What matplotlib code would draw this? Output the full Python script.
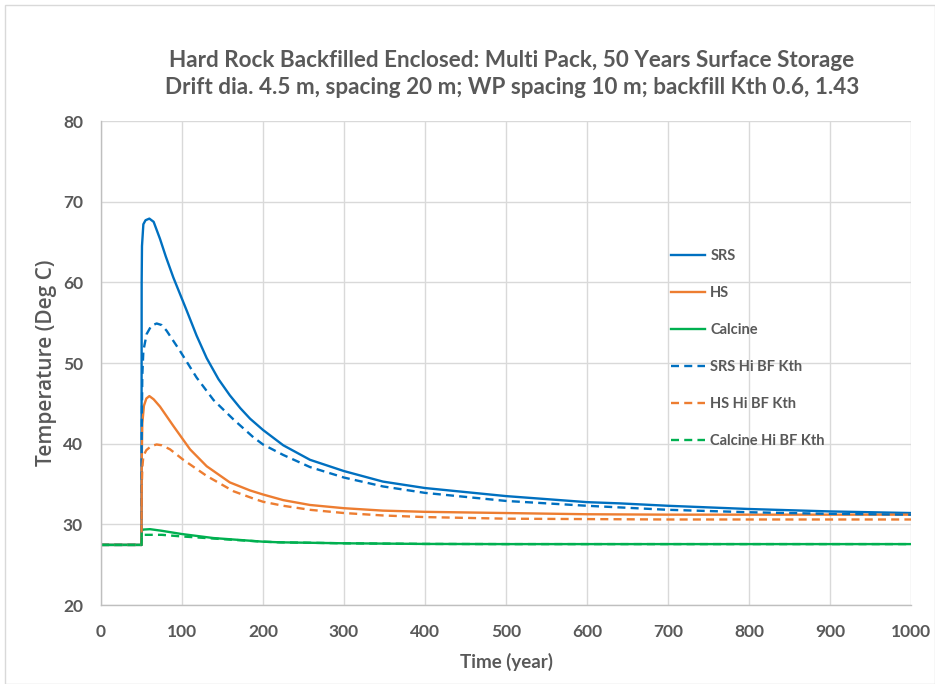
import matplotlib
matplotlib.use("Agg")
import matplotlib.pyplot as plt
from matplotlib.patches import Rectangle

plt.rcParams['font.family'] = ['Lato', 'DejaVu Sans']

# ---- data ----
srs_t = [0, 50, 50.2, 50.6, 52.3, 55, 59.7, 65, 72.8, 80, 89.3, 105.8, 118, 130.5, 145, 159, 172, 184, 200, 225,
         258, 300, 348, 400, 450, 500, 600, 640, 700, 800, 900, 1000]
srs_v = [27.45, 27.45, 60.0, 64.5, 67.2, 67.7, 67.9, 67.5, 65.4, 63.2, 60.6, 56.5, 53.4, 50.6, 48.0, 46.0, 44.4,
         43.1, 41.7, 39.8, 38.0, 36.6, 35.3, 34.5, 34.0, 33.5, 32.75, 32.6, 32.3, 31.9, 31.6, 31.4]

hs_t = [0, 50, 50.3, 51, 53, 56, 59.7, 65, 72.8, 89.3, 109.9, 130.5, 159, 184, 200, 225, 258, 300, 348, 400, 500,
        600, 700, 800, 900, 1000]
hs_v = [27.45, 27.45, 38.0, 42.5, 44.7, 45.6, 45.9, 45.5, 44.6, 42.2, 39.3, 37.2, 35.2, 34.2, 33.7, 33.0, 32.4, 32.0,
        31.7, 31.55, 31.4, 31.25, 31.2, 31.2, 31.2, 31.2]

cal_t = [0, 50, 50.3, 52, 60.5, 75, 99.6, 138.7, 200, 221, 300, 400, 500, 700, 1000]
cal_v = [27.45, 27.45, 29.2, 29.35, 29.4, 29.2, 28.8, 28.3, 27.85, 27.77, 27.65, 27.57, 27.55, 27.55, 27.55]

srs_hi_t = [0, 50, 50.3, 51, 52.3, 56.4, 62, 68.7, 75, 81, 97.5, 118, 139, 163.6, 188, 200, 225, 258, 300, 348, 400,
            500, 600, 640, 700, 800, 900, 1000]
srs_hi_v = [27.45, 27.45, 42.0, 48.5, 51.5, 53.6, 54.6, 54.9, 54.7, 54.0, 51.5, 48.2, 45.4, 43.0, 40.8, 39.9, 38.6,
            37.1, 35.8, 34.7, 33.9, 32.9, 32.3, 32.1, 31.8, 31.5, 31.3, 31.2]

hs_hi_t = [0, 50, 50.3, 51, 52.3, 56, 62, 68.7, 75, 85.2, 101.6, 130.5, 163.6, 188, 200, 225, 258, 300, 348, 400,
           500, 600, 700, 800, 900, 1000]
hs_hi_v = [27.45, 27.45, 34.5, 37.0, 38.5, 39.2, 39.7, 39.9, 39.8, 39.3, 38.0, 36.0, 34.1, 33.2, 32.8, 32.3, 31.8,
           31.4, 31.1, 30.9, 30.7, 30.65, 30.6, 30.6, 30.6, 30.6]

cal_hi_t = [0, 50, 50.4, 51.4, 75, 99.6, 130, 160, 200, 221, 300, 400, 500, 700, 1000]
cal_hi_v = [27.45, 27.45, 28.5, 28.7, 28.7, 28.5, 28.3, 28.1, 27.85, 27.77, 27.65, 27.57, 27.55, 27.55, 27.55]

series = [
    ("SRS", srs_t, srs_v, "#0070C0", "-"),
    ("HS", hs_t, hs_v, "#ED7D31", "-"),
    ("Calcine", cal_t, cal_v, "#00B050", "-"),
    ("SRS Hi BF Kth", srs_hi_t, srs_hi_v, "#0070C0", (0, (3.4, 2.2))),
    ("HS Hi BF Kth", hs_hi_t, hs_hi_v, "#ED7D31", (0, (3.4, 2.2))),
    ("Calcine Hi BF Kth", cal_hi_t, cal_hi_v, "#00B050", (0, (3.4, 2.2))),
]

x_ticks = list(range(0, 1001, 100))
y_ticks = list(range(20, 81, 10))

title = ("Hard Rock Backfilled Enclosed: Multi Pack, 50 Years Surface Storage\n"
         "Drift dia. 4.5 m, spacing 20 m; WP spacing 10 m; backfill Kth 0.6, 1.43")

gray = "#595959"
grid = "#d9d9d9"

fig = plt.figure(figsize=(9.35, 6.84), dpi=100)
W, H = 935, 684
ax = fig.add_axes([101 / W, 1 - 605 / H, (911 - 101) / W, (605 - 121) / H])

fig.patches.append(Rectangle((5 / W, 0), 1 - 5 / W, 1 - 5 / H, transform=fig.transFigure,
                             fill=False, edgecolor="#d9d9d9", linewidth=1))

for name, t, v, c, ls in series:
    ax.plot(t, v, color=c, linestyle=ls, linewidth=1.7, label=name)

ax.set_xlim(0, 1000)
ax.set_ylim(20, 80)
ax.set_xticks(x_ticks)
ax.set_yticks(y_ticks)
ax.grid(True, color=grid, linewidth=1)
ax.set_axisbelow(True)
for s in ["top", "right"]:
    ax.spines[s].set_visible(False)
for s in ["left", "bottom"]:
    ax.spines[s].set_color("#bfbfbf")
    ax.spines[s].set_linewidth(1)
ax.tick_params(axis="x", length=0, labelsize=12.5, labelcolor=gray, pad=14)
ax.tick_params(axis="y", length=0, labelsize=12.5, labelcolor=gray, pad=13)
for lab in ax.get_xticklabels() + ax.get_yticklabels():
    lab.set_fontweight("bold")

ax.set_xlabel("Time (year)", fontsize=13.5, fontweight="bold", color=gray, labelpad=9)
ax.set_ylabel("Temperature (Deg C)", fontsize=15, fontweight="semibold", color=gray, labelpad=4,
              family=["Open Sans", "DejaVu Sans"])

fig.text(512 / W, 1 - 74 / H, title, ha="center", va="center", fontsize=16.2,
         fontweight="bold", color=gray, linespacing=1.4)

leg = ax.legend(loc="upper left", bbox_to_anchor=(665 / W, 1 - 243 / H), bbox_transform=fig.transFigure,
                frameon=False, fontsize=10.5, labelspacing=1.58, handlelength=2.35, handletextpad=0.35,
                borderaxespad=0)
for txt in leg.get_texts():
    txt.set_fontweight("bold")
    txt.set_color(gray)

fig.savefig("out.png", dpi=100, facecolor="white")
